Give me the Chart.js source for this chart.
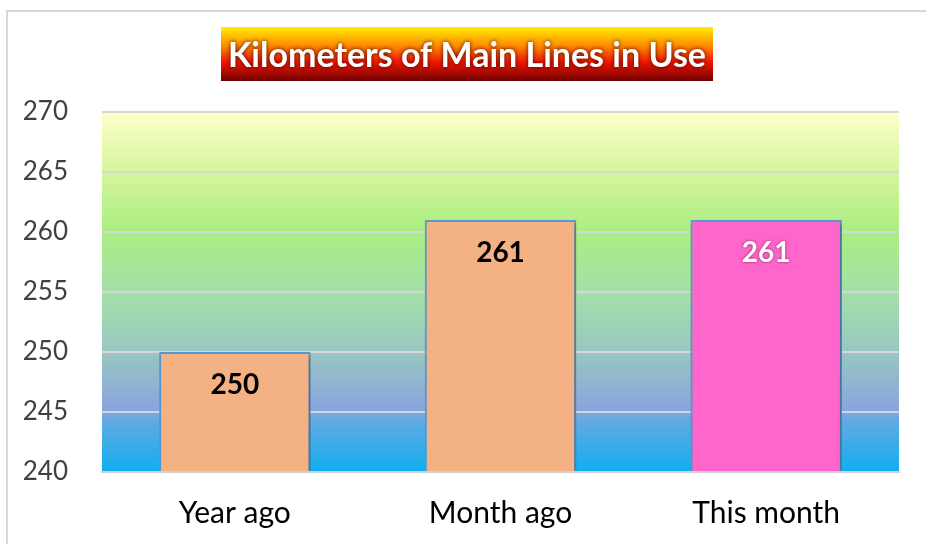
<!DOCTYPE html>
<html>
<head>
<meta charset="utf-8">
<script src="https://cdn.jsdelivr.net/npm/chart.js@4/dist/chart.umd.min.js"></script>
<style>
  html, body { margin: 0; padding: 0; background: #fff; }
  #wrap { width: 926px; height: 544px; position: relative; }
</style>
</head>
<body>
<div id="wrap"><canvas id="chart" width="926" height="544"></canvas></div>
<script>
// data
var chartTitle = "Kilometers of Main Lines in Use";
var categories = ["Year ago", "Month ago", "This month"];
var kmValues = [250, 261, 261];
var barColors = ["#f4b183", "#f4b183", "#ff66cc"];
var labelColors = ["#000000", "#000000", "#ffffff"];
var yMin = 240, yMax = 270, yStep = 5;

var FONT = "Lato, 'Open Sans', sans-serif";

// frame + plot gradient + title box
var decor = {
  id: "decor",
  beforeDraw: function(chart) {
    var c = chart.ctx, a = chart.chartArea;
    c.save();
    // outer frame (cropped at right/bottom)
    c.strokeStyle = "#d9d9d9";
    c.lineWidth = 2;
    c.beginPath();
    c.moveTo(7, 544); c.lineTo(7, 11); c.lineTo(926, 11);
    c.stroke();
    // plot area gradient
    var g = c.createLinearGradient(0, a.top, 0, a.bottom);
    g.addColorStop(0, "#ffffcc");
    g.addColorStop(0.17, "#d4f59c");
    g.addColorStop(0.33, "#aaee80");
    g.addColorStop(0.5, "#a4e0a8");
    g.addColorStop(0.67, "#98c6c2");
    g.addColorStop(0.82, "#8aa6dd");
    g.addColorStop(0.87, "#5aaae4");
    g.addColorStop(1, "#10aef0");
    c.fillStyle = g;
    c.fillRect(a.left, a.top, a.right - a.left, a.bottom - a.top);
    // title box
    var bx = 221, by = 27, bw = 492, bh = 54;
    var tg = c.createLinearGradient(0, by, 0, by + bh);
    tg.addColorStop(0, "#ffee00");
    tg.addColorStop(0.35, "#ff8a00");
    tg.addColorStop(0.65, "#ee1500");
    tg.addColorStop(1, "#700000");
    c.fillStyle = tg;
    c.fillRect(bx, by, bw, bh);
    c.font = "bold 34px " + FONT;
    c.textAlign = "center";
    c.textBaseline = "alphabetic";
    c.shadowColor = "rgba(60,0,0,0.9)";
    c.shadowBlur = 4;
    c.fillStyle = "#ffffff";
    c.fillText(chartTitle, bx + bw / 2, 67);
    c.restore();
  },
  beforeDatasetsDraw: function(chart) {
    var c = chart.ctx;
    c.save();
    c.shadowColor = "rgba(0,0,0,0.3)";
    c.shadowBlur = 4;
    c.shadowOffsetX = 2;
    c.shadowOffsetY = 2;
  },
  afterDatasetsDraw: function(chart) {
    var c = chart.ctx;
    c.restore();
    var meta = chart.getDatasetMeta(0);
    c.save();
    c.font = "bold 28px " + FONT;
    c.textAlign = "center";
    c.textBaseline = "middle";
    meta.data.forEach(function(bar, i) {
      c.fillStyle = labelColors[i];
      if (labelColors[i] === "#ffffff") {
        c.shadowColor = "rgba(80,0,40,0.7)";
        c.shadowBlur = 3;
      } else {
        c.shadowColor = "transparent";
        c.shadowBlur = 0;
      }
      c.fillText(String(kmValues[i]), bar.x, bar.y + 33);
    });
    c.restore();
  }
};

new Chart(document.getElementById("chart"), {
  type: "bar",
  data: {
    labels: categories,
    datasets: [{
      data: kmValues,
      backgroundColor: barColors,
      borderColor: "#5b9bd5",
      borderWidth: 2,
      barPercentage: 1,
      categoryPercentage: 0.57,
      base: yMin
    }]
  },
  options: {
    responsive: false,
    animation: false,
    layout: { padding: { top: 112, right: 27, bottom: 0, left: 0 } },
    plugins: {
      legend: { display: false },
      title: { display: false },
      tooltip: { enabled: false }
    },
    scales: {
      x: {
        grid: { display: false, drawTicks: false },
        border: { display: true, color: "#d0d0d0", width: 2 },
        ticks: { color: "#000000", font: { family: FONT, size: 30 }, padding: 23 },
        afterFit: function(s) { s.height = 72; }
      },
      y: {
        min: yMin, max: yMax,
        grid: { color: "#d6d6d6", lineWidth: 2, drawTicks: false },
        border: { display: false },
        ticks: { stepSize: yStep, color: "#404040", font: { family: FONT, size: 26 }, padding: 34 },
        afterFit: function(s) { s.width = 102; }
      }
    }
  },
  plugins: [decor]
});
</script>
</body>
</html>
